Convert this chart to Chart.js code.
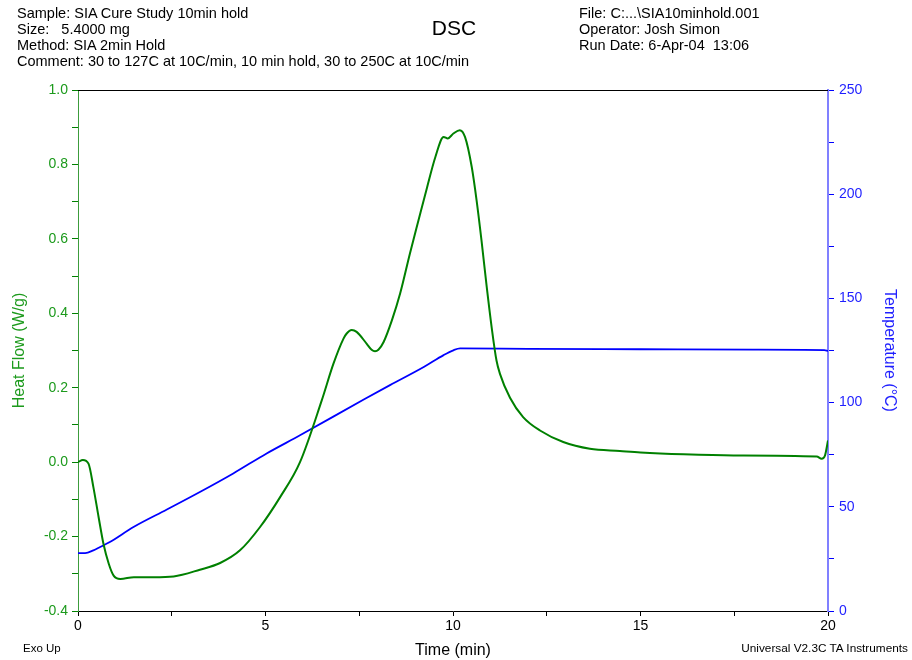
<!DOCTYPE html>
<html>
<head>
<meta charset="utf-8">
<script src="https://cdn.jsdelivr.net/npm/chart.js@4.4.0/dist/chart.umd.min.js"></script>
<style>
	body { margin: 0; background: #fff; }
	#wrap { position: relative; width: 912px; height: 660px; font-family: 'Liberation Sans', Arial, sans-serif; }
	canvas { position: absolute; left: 0; top: 0; }
	.txt { position: absolute; color: #000; white-space: pre; }
	.head { font-size: 14.5px; line-height: 16.1px; top: 5px; }
</style>
</head>
<body>
<div id="wrap">
	<canvas id="dsc" width="912" height="660"></canvas>
	<div class="txt head" style="left:17px;">Sample: SIA Cure Study 10min hold
Size:   5.4000 mg
Method: SIA 2min Hold
Comment: 30 to 127C at 10C/min, 10 min hold, 30 to 250C at 10C/min</div>
	<div class="txt" style="left:404px; width:100px; text-align:center; top:16px; font-size:21px; line-height:24px;">DSC</div>
	<div class="txt head" style="left:579px;">File: C:...\SIA10minhold.001
Operator: Josh Simon
Run Date: 6-Apr-04  13:06</div>
	<div class="txt" style="left:23px; top:641px; font-size:11.5px; line-height:14px;">Exo Up</div>
	<div class="txt" style="right:4px; top:641px; font-size:11.8px; line-height:14px;">Universal V2.3C TA Instruments</div>
</div>
<script>
// Heat flow (W/g)
const hfTime = [0.00, 0.13, 0.28, 0.41, 0.55, 0.68, 0.82, 0.95, 1.13, 1.49, 2.02, 2.55, 3.25, 3.79, 4.32, 4.85, 5.39, 5.92,
	6.50, 6.81, 7.08, 7.16, 7.30, 7.43, 7.70, 7.83, 7.92, 8.01, 8.15, 8.37, 8.59, 8.85, 9.08, 9.31, 9.53, 9.75, 9.86, 10.01,
	10.18, 10.32, 10.50, 10.63, 10.76, 10.90, 11.03, 11.16, 11.25, 11.52, 11.87, 12.32, 12.94, 13.65, 14.45, 15.00, 16.15,
	17.48, 19.70, 19.83, 19.92, 20.00];
const heatFlow = [0.000, 0.006, -0.004, -0.067, -0.148, -0.220, -0.273, -0.305, -0.314, -0.309, -0.309, -0.307, -0.289,
	-0.271, -0.237, -0.175, -0.094, 0.000, 0.166, 0.264, 0.332, 0.345, 0.355, 0.350, 0.318, 0.302, 0.298, 0.302, 0.323,
	0.381, 0.453, 0.560, 0.650, 0.739, 0.820, 0.874, 0.870, 0.883, 0.892, 0.874, 0.793, 0.703, 0.596, 0.470, 0.363, 0.273,
	0.238, 0.173, 0.121, 0.085, 0.054, 0.036, 0.030, 0.026, 0.021, 0.018, 0.015, 0.009, 0.018, 0.058];

// Temperatura (°C)
const tempTime = [0.00, 0.19, 0.41, 0.59, 0.85, 1.48, 2.37, 3.25, 4.14, 5.03, 5.92, 7.62, 8.32, 9.22, 9.75, 10.01, 10.19,
	12.00, 15.00, 18.00, 19.90, 20.00];
const temperature = [27.8, 27.8, 29.1, 30.7, 33.1, 40.3, 48.7, 57.1, 66.0, 75.6, 84.3, 101.5, 108.4, 117.1, 122.8, 125.1,
	126.0, 125.8, 125.6, 125.4, 125.2, 124.8];

const FONT = "'Liberation Sans', Arial, sans-serif";
const GREEN = '#008000';
const GREEN_TXT = '#1c9a1c';
const BLUE = '#0000ff';

const toXY = (xs, ys) => xs.map((x, i) => ({ x, y: ys[i] }));

// górna linia ramki
const topLine = {
	id: 'topLine',
	afterDraw(chart) {
		const { ctx, chartArea } = chart;
		ctx.save();
		ctx.strokeStyle = '#000';
		ctx.lineWidth = 1;
		ctx.beginPath();
		ctx.moveTo(chartArea.left, chartArea.top + 0.5);
		ctx.lineTo(chartArea.right, chartArea.top + 0.5);
		ctx.stroke();
		ctx.restore();
	},
};

new Chart(document.getElementById('dsc'), {
	type: 'scatter',
	data: {
		datasets: [
			{
				label: 'Heat Flow',
				data: toXY(hfTime, heatFlow),
				yAxisID: 'y',
				showLine: true,
				borderColor: GREEN,
				borderWidth: 2,
				pointRadius: 0,
				cubicInterpolationMode: 'monotone',
			},
			{
				label: 'Temperature',
				data: toXY(tempTime, temperature),
				yAxisID: 'y2',
				showLine: true,
				borderColor: BLUE,
				borderWidth: 1.8,
				pointRadius: 0,
				cubicInterpolationMode: 'monotone',
			},
		],
	},
	options: {
		responsive: false,
		animation: false,
		layout: { padding: { top: 90, left: 0, right: 0, bottom: 0 } },
		plugins: { legend: { display: false }, tooltip: { enabled: false } },
		scales: {
			x: {
				type: 'linear',
				min: 0,
				max: 20,
				afterFit: (s) => { s.height = 49; },
				ticks: {
					stepSize: 2.5,
					color: '#000',
					font: { family: FONT, size: 14 },
					padding: 2,
					maxRotation: 0,
					callback: (v) => (v % 5 === 0 ? String(v) : ''),
				},
				grid: { drawOnChartArea: false, tickLength: 5, color: '#000' },
				border: { color: '#000', width: 1 },
				title: {
					display: true,
					text: 'Time (min)',
					color: '#000',
					font: { family: FONT, size: 16 },
					padding: { top: 0, bottom: 0 },
				},
			},
			y: {
				position: 'left',
				min: -0.4,
				max: 1.0,
				afterFit: (s) => { s.width = 78; },
				ticks: {
					stepSize: 0.1,
					color: GREEN_TXT,
					font: { family: FONT, size: 14 },
					padding: 4,
					callback: (v) => {
						const n = Math.round(v * 10);
						return n % 2 === 0 ? (n / 10).toFixed(1) : '';
					},
				},
				grid: { drawOnChartArea: false, tickLength: 6, color: GREEN },
				border: { color: '#3c9c3c', width: 1 },
				title: {
					display: true,
					text: 'Heat Flow (W/g)',
					color: GREEN_TXT,
					font: { family: FONT, size: 16 },
					padding: { top: 10, bottom: 0 },
				},
			},
			y2: {
				position: 'right',
				min: 0,
				max: 250,
				afterFit: (s) => { s.width = 84; },
				ticks: {
					stepSize: 25,
					color: '#1f1fff',
					font: { family: FONT, size: 14 },
					padding: 5,
					callback: (v) => (v % 50 === 0 ? String(v) : ''),
				},
				grid: { drawOnChartArea: false, tickLength: 6, color: BLUE },
				border: { color: '#8080ff', width: 2 },
				title: {
					display: true,
					text: 'Temperature (°C)',
					color: '#1f1fff',
					font: { family: FONT, size: 16 },
					padding: { top: 13, bottom: 0 },
				},
			},
		},
	},
	plugins: [topLine],
});
</script>
</body>
</html>
